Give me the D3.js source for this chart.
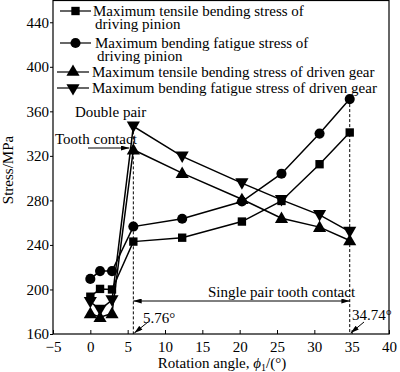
<!DOCTYPE html>
<html><head><meta charset="utf-8">
<script src="https://cdn.jsdelivr.net/npm/d3@7"></script>
<style>body{margin:0;background:#fff}svg{display:block}text{font-family:"Liberation Serif","Times New Roman",serif;fill:#000}</style>
</head><body><svg id="c" width="400" height="372"></svg>
<script>
const angles = [0, 1.3, 2.9, 5.76, 12.3, 20.3, 25.6, 30.7, 34.74];
const tensilePinion = [193.5, 200.5, 200, 243, 246.5, 261, 279.5, 312.5, 341];
const fatiguePinion = [209.5, 216.5, 216.5, 256.5, 263.5, 279, 304, 340, 371];
const tensileGear = [178.5, 175, 178.5, 325.5, 304.5, 281, 264, 256, 244];
const fatigueGear = [189, 182, 190.5, 346.5, 319.5, 295.5, 280.5, 267, 252];
const seriesNames = [
  ["Maximum tensile bending stress of", "driving pinion"],
  ["Maximum bending fatigue stress of", "driving pinion"],
  ["Maximum tensile bending stress of driven gear"],
  ["Maximum bending fatigue stress of driven gear"]
];
const xTicks = [-5, 0, 5, 10, 15, 20, 25, 30, 35, 40];
const yTicks = [160, 200, 240, 280, 320, 360, 400, 440];
const doubleStart = 5.76, singleEnd = 34.74;

const svg = d3.select("#c");
const x = d3.scaleLinear().domain([-5, 40]).range([53, 389]);
const y = d3.scaleLinear().domain([160, 460]).range([334, 0]);

// frame
svg.append("rect").attr("x", x(-5)).attr("y", 0.5).attr("width", x(40) - x(-5)).attr("height", y(160) - 0.5)
  .attr("fill", "none").attr("stroke", "#000").attr("stroke-width", 1.2);

// axes
const xa = svg.append("g").attr("transform", `translate(0,${y(160)})`)
  .call(d3.axisBottom(x).tickValues(xTicks).tickSize(-4).tickPadding(7).tickFormat(d => d < 0 ? "\u22125" : d));
const ya = svg.append("g").attr("transform", `translate(${x(-5)},0)`)
  .call(d3.axisLeft(y).tickValues(yTicks).tickSize(3).tickPadding(1));
[xa, ya].forEach(g => {
  g.select(".domain").remove();
  g.selectAll("line").attr("stroke", "#000").attr("stroke-width", 1);
  g.selectAll("text").style("font-size", "15px").style("font-family", '"Liberation Serif",serif').attr("fill", "#000");
});

// axis titles
svg.append("text").attr("x", 222).attr("y", 368).attr("text-anchor", "middle").style("font-size", "15px")
  .html('Rotation angle, <tspan font-style="italic">\u03D5</tspan><tspan font-size="10px" dy="3">1</tspan><tspan dy="-3">/(\u00B0)</tspan>');
svg.append("text").attr("transform", "translate(13,170) rotate(-90)").attr("text-anchor", "middle").style("font-size", "15px").text("Stress/MPa");

// defs arrow
const defs = svg.append("defs");
defs.append("marker").attr("id", "ah").attr("viewBox", "0 0 10 6").attr("refX", 10).attr("refY", 3)
  .attr("markerWidth", 9).attr("markerHeight", 5).attr("markerUnits", "userSpaceOnUse").attr("orient", "auto-start-reverse")
  .append("path").attr("d", "M0,0L10,3L0,6Z").attr("fill", "#000");

// dashed guides
svg.append("line").attr("x1", x(doubleStart)).attr("x2", x(doubleStart)).attr("y1", y(fatigueGear[3])).attr("y2", y(160))
  .attr("stroke", "#000").attr("stroke-dasharray", "3,2").attr("stroke-width", 1);
svg.append("line").attr("x1", x(singleEnd)).attr("x2", x(singleEnd)).attr("y1", y(fatiguePinion[8])).attr("y2", y(160))
  .attr("stroke", "#000").attr("stroke-dasharray", "3,2").attr("stroke-width", 1);

// series
const sets = [
  {v: tensilePinion, sym: d3.symbolSquare, size: 70, rot: 0},
  {v: fatiguePinion, sym: d3.symbolCircle, size: 80, rot: 0},
  {v: tensileGear, sym: d3.symbolTriangle, size: 75, rot: 0},
  {v: fatigueGear, sym: d3.symbolTriangle, size: 75, rot: 180}
];
const line = d3.line().x(d => x(d[0])).y(d => y(d[1]));
sets.forEach(s => {
  const pts = angles.map((a, i) => [a, s.v[i]]);
  svg.append("path").attr("d", line(pts)).attr("fill", "none").attr("stroke", "#000").attr("stroke-width", 1.5);
  svg.append("g").selectAll("path").data(pts).join("path")
    .attr("d", d3.symbol(s.sym, s.size)())
    .attr("transform", d => `translate(${x(d[0])},${y(d[1]) + (s.sym === d3.symbolTriangle ? (s.rot ? -1 : 1) : 0)}) rotate(${s.rot})`)
    .attr("fill", "#000");
});

// legend
const leg = [
  {yy: 11, x1: 60, x2: 91, tx: 93},
  {yy: 43, x1: 60, x2: 91, tx: 95},
  {yy: 72, x1: 57, x2: 89, tx: 92},
  {yy: 88, x1: 57, x2: 89, tx: 92}
];
leg.forEach((l, i) => {
  const s = sets[i];
  svg.append("line").attr("x1", l.x1).attr("x2", l.x2).attr("y1", l.yy).attr("y2", l.yy).attr("stroke", "#000").attr("stroke-width", 1.2);
  svg.append("path").attr("d", d3.symbol(s.sym, s.size)()).attr("fill", "#000")
    .attr("transform", `translate(${(l.x1 + l.x2) / 2},${l.yy}) rotate(${s.rot})`);
  seriesNames[i].forEach((t, j) => {
    svg.append("text").attr("x", l.tx + (j ? 2 : 0)).attr("y", l.yy + 4.5 + j * 13.5).style("font-size", "15px").text(t);
  });
});

// annotations
svg.append("text").attr("x", 75).attr("y", 117).style("font-size", "15px").text("Double pair");
svg.append("text").attr("x", 55).attr("y", 144).style("font-size", "15px").text("Tooth contact");
svg.append("line").attr("x1", 88).attr("x2", x(doubleStart) - 4).attr("y1", 148).attr("y2", 148)
  .attr("stroke", "#000").attr("stroke-width", 1).attr("marker-end", "url(#ah)");
svg.append("line").attr("x1", x(doubleStart)).attr("x2", x(singleEnd)).attr("y1", 301).attr("y2", 301)
  .attr("stroke", "#000").attr("stroke-width", 1).attr("marker-start", "url(#ah)").attr("marker-end", "url(#ah)");
svg.append("text").attr("x", 208).attr("y", 297).style("font-size", "15px").text("Single pair tooth contact");
svg.append("text").attr("x", 143).attr("y", 323).style("font-size", "15px").text("5.76\u00B0");
svg.append("line").attr("x1", 148).attr("y1", 322).attr("x2", x(doubleStart) + 1).attr("y2", y(160) - 1)
  .attr("stroke", "#000").attr("stroke-width", 1).attr("marker-end", "url(#ah)");
svg.append("text").attr("x", 352).attr("y", 320).style("font-size", "15px").text("34.74\u00B0");
svg.append("line").attr("x1", 364).attr("y1", 322).attr("x2", x(singleEnd) + 1).attr("y2", y(160) - 1)
  .attr("stroke", "#000").attr("stroke-width", 1).attr("marker-end", "url(#ah)");
</script></body></html>
